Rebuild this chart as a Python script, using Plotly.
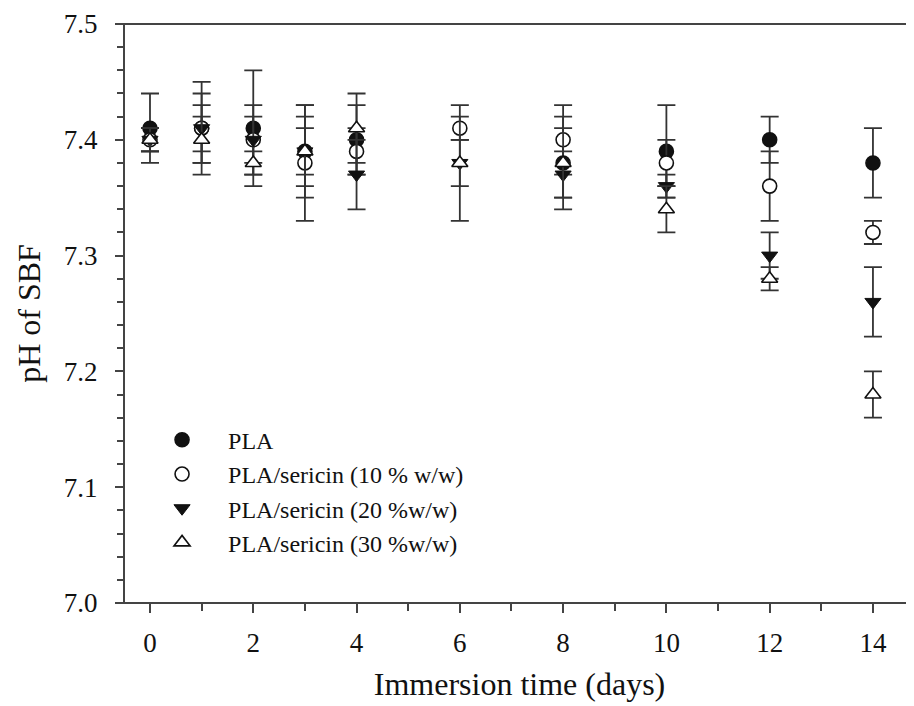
import plotly.graph_objects as go

days = [0, 1, 2, 3, 4, 6, 8, 10, 12, 14]

pla = [7.41, 7.41, 7.41, 7.39, 7.40, None, 7.38, 7.39, 7.40, 7.38]
pla_err = [0.03, 0.04, 0.05, 0.03, 0.03, 0.0, 0.04, 0.04, 0.02, 0.03]

s10 = [7.40, 7.41, 7.40, 7.38, 7.39, 7.41, 7.40, 7.38, 7.36, 7.32]
s10_err = [0.01, 0.03, 0.03, 0.05, 0.02, 0.01, 0.03, 0.02, 0.03, 0.01]

s20 = [7.40, 7.41, 7.40, 7.39, 7.37, 7.38, 7.37, 7.36, 7.30, 7.26]
s20_err = [0.01, 0.02, 0.02, 0.04, 0.03, 0.05, 0.02, 0.01, 0.02, 0.03]

s30 = [7.40, 7.40, 7.38, 7.39, 7.41, 7.38, 7.38, 7.34, 7.28, 7.18]
s30_err = [0.01, 0.02, 0.01, 0.02, 0.03, 0.02, 0.03, 0.02, 0.01, 0.02]

names = ["PLA", "PLA/sericin (10 % w/w)", "PLA/sericin (20 %w/w)", "PLA/sericin (30 %w/w)"]
x_ticks = [0, 2, 4, 6, 8, 10, 12, 14]
y_ticks = [7.0, 7.1, 7.2, 7.3, 7.4, 7.5]

FONT = "Liberation Serif"
INK = "#111111"
ERR = "#333333"

series = [
    (pla, pla_err, "circle", INK),
    (s10, s10_err, "circle-open", "white"),
    (s20, s20_err, "triangle-down", INK),
    (s30, s30_err, "triangle-up", "white"),
]

fig = go.Figure()
for name, (vals, errs, sym, fill) in zip(names, series):
    marker = dict(size=14, color=fill, line=dict(color=INK, width=1.6))
    marker["symbol"] = "circle" if sym == "circle-open" else sym
    if sym == "triangle-down":
        marker["line"] = dict(color=INK, width=1)
    fig.add_trace(go.Scatter(
        x=days, y=vals, mode="markers", name=name,
        marker=marker,
        error_y=dict(type="data", array=errs, visible=True,
                     color=ERR, thickness=1.8, width=9),
    ))

fig.update_layout(
    width=906, height=698,
    margin=dict(l=117, r=0, t=16, b=103),
    paper_bgcolor="white", plot_bgcolor="white",
    font=dict(family=FONT, color=INK),
    showlegend=True,
    legend=dict(
        x=0.014, y=0.32, xanchor="left", yanchor="top",
        bgcolor="rgba(0,0,0,0)", borderwidth=0,
        font=dict(family=FONT, size=24, color=INK),
        itemwidth=82,
    ),
    xaxis=dict(
        range=[-0.484, 14.795], automargin=False,
        tickmode="array", tickvals=x_ticks, ticktext=[str(v) for v in x_ticks],
        ticks="outside", ticklen=9, tickwidth=1.8, tickcolor="#444",
        minor=dict(ticks="outside", ticklen=7, tickwidth=1.8, tickcolor="#444", dtick=1, tick0=0),
        showline=False, showgrid=False, zeroline=False,
        tickfont=dict(family=FONT, size=27, color=INK),
        ticklabelstandoff=7,
        title=dict(text="Immersion time (days)", font=dict(family=FONT, size=32, color=INK), standoff=15),
    ),
    yaxis=dict(
        range=[7.0, 7.5], automargin=False,
        tickmode="array", tickvals=y_ticks, ticktext=["%.1f" % v for v in y_ticks],
        ticks="outside", ticklen=8, tickwidth=1.8, tickcolor="#444",
        minor=dict(ticks="outside", ticklen=6, tickwidth=1.8, tickcolor="#444", dtick=0.02, tick0=7.0),
        showline=True, linecolor="#444", linewidth=2, mirror=False,
        showgrid=False, zeroline=False,
        tickfont=dict(family=FONT, size=27, color=INK),
        ticklabelstandoff=12,
        title=dict(text="pH of SBF", font=dict(family=FONT, size=32, color=INK), standoff=14),
    ),
    shapes=[
        dict(type="line", xref="paper", yref="paper", x0=-0.0101, x1=1, y0=0, y1=0,
             line=dict(color="#444", width=2)),
        dict(type="line", xref="paper", yref="paper", x0=-0.0101, x1=1, y0=1, y1=1,
             line=dict(color="#444", width=2)),
    ],
)

fig.write_html("out.html")
